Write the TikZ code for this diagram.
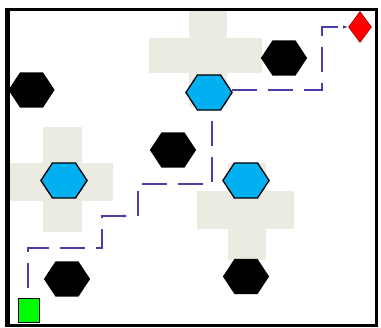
\documentclass[tikz,border=0pt]{standalone}
\usetikzlibrary{shapes.geometric,arrows.meta}
\definecolor{zonebeige}{RGB}{236,235,226}
\definecolor{hexblue}{RGB}{0,176,240}
\definecolor{routecol}{RGB}{72,64,168}
\definecolor{goalred}{RGB}{255,0,0}
\definecolor{goaledge}{RGB}{150,0,0}
\definecolor{startgreen}{RGB}{0,255,0}
\begin{document}
\begin{tikzpicture}[x=1pt,y=-1pt,
  hexagon/.style={regular polygon, regular polygon sides=6, minimum size=40.5pt,
    inner sep=0pt, outer sep=0pt, xscale=1.14, transform shape},
  obstacle/.style={hexagon, fill=black},
  waypoint/.style={hexagon, fill=hexblue, draw=black, line width=1.3pt},
  routeline/.style={draw=routecol, line width=1.2pt, dash pattern=on 25pt off 11pt},
  tipped/.style={-{Latex[length=5pt,width=3.5pt]}},
  zone/.style={fill=zonebeige}]
\useasboundingbox (0,0) rectangle (381,328);
\fill[white] (0,0) rectangle (381,328);

% beige cross zones
\fill[zone] (189,10) rectangle (227,107);
\fill[zone] (149,38) rectangle (262,73);
\fill[zone] (43,127) rectangle (82,232);
\fill[zone] (10,163) rectangle (113,201);
\fill[zone] (228,163) rectangle (266,260);
\fill[zone] (197,191) rectangle (294,229);

% frame
\draw[line width=3pt] (7.5,9.5) rectangle (376.5,325.5);
\draw[line width=5pt] (7.5,8) -- (7.5,327);

% obstacles
\node[obstacle] (o1) at (31.5,90) {};
\node[obstacle] (o2) at (284,58) {};
\node[obstacle] (o3) at (173,150) {};
\node[obstacle] (o4) at (67,279) {};
\node[obstacle] (o5) at (246,276.5) {};

% waypoints
\node[waypoint] (w1) at (209,92.5) {};
\node[waypoint] (w2) at (64,180.5) {};
\node[waypoint] (w3) at (246,180.5) {};

% start and goal
\node[draw=black, line width=1.3pt, fill=startgreen, minimum width=21pt, minimum height=24pt,
  inner sep=0pt] (start) at (29,310.5) {};
\node[diamond, draw=goaledge, line width=0.6pt, fill=goalred, minimum width=23pt,
  minimum height=31pt, inner sep=0pt] (goal) at (360,27) {};

% route coordinates
\coordinate (r0) at (28,288);
\coordinate (r1) at (128,216);
\coordinate (r2) at (138,216);
\coordinate (r3) at (212,110);
\coordinate (r4) at (232,90);

% route
\draw[routeline, tipped] (r0) -- (28,248) -- (102,248) -- (102,216) -- (r1);
\draw[routeline] (r2) -- (138,184) -- (212,184) -- (r3);
\draw[routeline, tipped] (r4) -- (322,90) -- (322,27) -- (goal.west);
\end{tikzpicture}
\end{document}
